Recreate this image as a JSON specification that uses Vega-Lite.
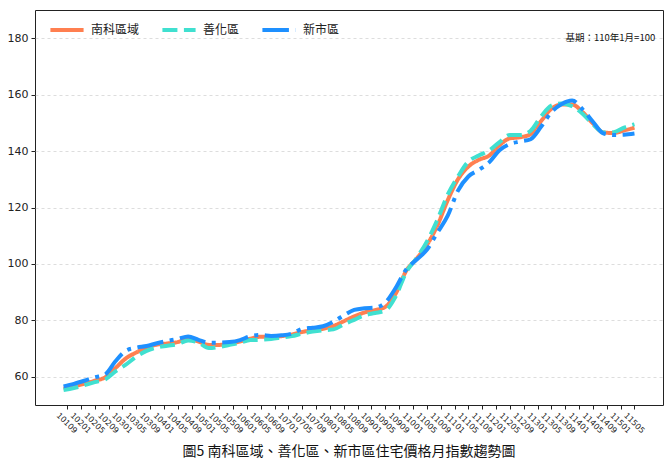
{
  "$schema": "https://vega.github.io/schema/vega-lite/v6.json",
  "width": 628,
  "height": 395,
  "autosize": "none",
  "padding": {"left": 35, "top": 10, "right": 8, "bottom": 65},
  "title": {
    "text": "圖5  南科區域、善化區、新市區住宅價格月指數趨勢圖",
    "orient": "bottom",
    "font": "Noto Sans CJK TC",
    "fontSize": 14,
    "fontWeight": "normal",
    "color": "#111",
    "offset": 10
  },
  "config": {
    "view": {"stroke": "#222", "strokeWidth": 1}
  },
  "layer": [
    {
      "data": {
        "values": [
          {"m": 7, "南科區域": 55.8, "善化區": 55.3, "新市區": 56.6},
          {"m": 10, "南科區域": 56.6, "善化區": 56.0, "新市區": 57.5},
          {"m": 13, "南科區域": 57.5, "善化區": 57.0, "新市區": 58.6},
          {"m": 16, "南科區域": 58.6, "善化區": 58.1, "新市區": 59.8},
          {"m": 19, "南科區域": 59.8, "善化區": 59.0, "新市區": 60.8},
          {"m": 22, "南科區域": 63.1, "善化區": 61.9, "新市區": 65.5},
          {"m": 25, "南科區域": 66.5, "善化區": 64.3, "新市區": 69.2},
          {"m": 28, "南科區域": 68.6, "善化區": 67.1, "新市區": 70.3},
          {"m": 31, "南科區域": 70.3, "善化區": 69.2, "新市區": 70.9},
          {"m": 34, "南科區域": 71.4, "善化區": 70.4, "新市區": 71.9},
          {"m": 37, "南科區域": 71.8, "善化區": 71.0, "新市區": 72.7},
          {"m": 40, "南科區域": 72.3, "善化區": 71.6, "新市區": 73.4},
          {"m": 43, "南科區域": 73.5, "善化區": 72.9, "新市區": 74.3},
          {"m": 46, "南科區域": 72.5, "善化區": 72.1, "新市區": 73.1},
          {"m": 49, "南科區域": 71.3, "善化區": 70.2, "新市區": 72.1},
          {"m": 52, "南科區域": 71.3, "善化區": 70.6, "新市區": 72.1},
          {"m": 55, "南科區域": 71.8, "善化區": 71.3, "新市區": 72.3},
          {"m": 58, "南科區域": 72.5, "善化區": 72.1, "新市區": 73.0},
          {"m": 61, "南科區域": 73.5, "善化區": 73.0, "新市區": 74.4},
          {"m": 64, "南科區域": 74.2, "善化區": 73.1, "新市區": 74.8},
          {"m": 67, "南科區域": 74.2, "善化區": 73.4, "新市區": 74.5},
          {"m": 70, "南科區域": 74.4, "善化區": 73.9, "新市區": 74.7},
          {"m": 73, "南科區域": 75.0, "善化區": 74.4, "新市區": 75.3},
          {"m": 76, "南科區域": 75.9, "善化區": 75.3, "新市區": 77.0},
          {"m": 79, "南科區域": 76.5, "善化區": 76.0, "新市區": 77.4},
          {"m": 82, "南科區域": 77.0, "善化區": 76.5, "新市區": 77.9},
          {"m": 85, "南科區域": 78.0, "善化區": 76.8, "新市區": 79.5},
          {"m": 88, "南科區域": 79.7, "善化區": 78.6, "新市區": 81.8},
          {"m": 91, "南科區域": 81.4, "善化區": 80.2, "新市區": 83.7},
          {"m": 94, "南科區域": 82.8, "善化區": 81.8, "新市區": 84.3},
          {"m": 97, "南科區域": 83.6, "善化區": 82.6, "新市區": 84.5},
          {"m": 100, "南科區域": 84.8, "善化區": 83.5, "新市區": 86.3},
          {"m": 103, "南科區域": 89.5, "善化區": 88.5, "新市區": 91.5},
          {"m": 106, "南科區域": 97.5, "善化區": 97.0, "新市區": 98.0},
          {"m": 109, "南科區域": 101.8, "善化區": 102.0, "新市區": 101.5},
          {"m": 112, "南科區域": 106.7, "善化區": 107.9, "新市區": 105.0},
          {"m": 115, "南科區域": 113.5, "善化區": 115.5, "新市區": 111.0},
          {"m": 118, "南科區域": 122.5, "善化區": 124.5, "新市區": 117.0},
          {"m": 121, "南科區域": 130.0, "善化區": 131.0, "新市區": 126.0},
          {"m": 124, "南科區域": 134.5, "善化區": 136.3, "新市區": 131.0},
          {"m": 127, "南科區域": 136.9, "善化區": 138.4, "新市區": 133.3},
          {"m": 130, "南科區域": 138.4, "善化區": 140.2, "新市區": 136.0},
          {"m": 133, "南科區域": 142.1, "善化區": 143.2, "新市區": 140.3},
          {"m": 136, "南科區域": 144.5, "善化區": 145.7, "新市區": 142.5},
          {"m": 139, "南科區域": 144.9, "善化區": 145.7, "新市區": 143.4},
          {"m": 142, "南科區域": 146.0, "善化區": 147.2, "新市區": 144.2},
          {"m": 145, "南科區域": 150.6, "善化區": 152.3, "新市區": 148.6},
          {"m": 148, "南科區域": 155.0, "善化區": 156.1, "新市區": 153.8},
          {"m": 151, "南科區域": 156.5, "善化區": 156.9, "新市區": 156.7},
          {"m": 154, "南科區域": 156.5, "善化區": 155.9, "新市區": 157.9},
          {"m": 157, "南科區域": 153.8, "善化區": 153.2, "新市區": 154.8},
          {"m": 160, "南科區域": 149.8, "善化區": 149.5, "新市區": 150.4},
          {"m": 163, "南科區域": 146.6, "善化區": 146.6, "新市區": 146.3},
          {"m": 166, "南科區域": 146.4, "善化區": 146.7, "新市區": 145.7},
          {"m": 169, "南科區域": 147.3, "善化區": 148.3, "新市區": 145.8},
          {"m": 172, "南科區域": 148.3, "善化區": 149.5, "新市區": 146.2}
        ]
      },
      "transform": [
        {"fold": ["南科區域", "善化區", "新市區"], "as": ["area", "index"]}
      ],
      "mark": {"type": "line", "interpolate": "monotone", "strokeWidth": 4},
      "encoding": {
        "x": {
          "field": "m",
          "type": "quantitative",
          "scale": {"domain": [-1.25, 180.25], "nice": false, "zero": false},
          "axis": {
            "title": null,
            "grid": false,
            "domain": false,
            "tickCount": 60,
            "values": [8, 12, 16, 20, 24, 28, 32, 36, 40, 44, 48, 52, 56, 60, 64, 68, 72, 76, 80, 84, 88, 92, 96, 100, 104, 108, 112, 116, 120, 124, 128, 132, 136, 140, 144, 148, 152, 156, 160, 164, 168, 172],
            "labelExpr": "(101 + floor(datum.value / 12)) + ((datum.value % 12) + 1 < 10 ? '0' : '') + ((datum.value % 12) + 1)",
            "labelAngle": 45,
            "labelAlign": "center",
            "labelBaseline": "middle",
            "labelPadding": 14,
            "labelOffset": -1,
            "labelOverlap": false,
            "labelFlush": false,
            "labelFont": "DejaVu Sans",
            "labelFontSize": 8,
            "labelColor": "#222",
            "tickColor": "#222",
            "tickSize": 4
          }
        },
        "y": {
          "field": "index",
          "type": "quantitative",
          "scale": {"domain": [50, 190], "nice": false, "zero": false},
          "axis": {
            "title": null,
            "tickCount": 10,
            "values": [60, 80, 100, 120, 140, 160, 180],
            "grid": true,
            "gridDash": [3, 3],
            "gridColor": "#dddddd",
            "domain": false,
            "tickColor": "#222",
            "tickSize": 4,
            "labelFont": "DejaVu Sans",
            "labelFontSize": 11,
            "labelColor": "#222",
            "labelPadding": 3
          }
        },
        "color": {
          "field": "area",
          "type": "nominal",
          "scale": {"domain": ["南科區域", "善化區", "新市區"], "range": ["#FF7F50", "#40E0D0", "#1E90FF"]},
          "legend": {
            "title": null,
            "orient": "none",
            "legendX": 13,
            "legendY": 1,
            "direction": "horizontal",
            "padding": 0,
            "symbolType": "stroke",
            "symbolSize": 1100,
            "symbolStrokeWidth": 4,
            "labelFont": "Noto Sans CJK TC",
            "labelFontSize": 12,
            "labelColor": "#222",
            "labelOffset": 5,
            "columnPadding": 14
          }
        },
        "strokeDash": {
          "field": "area",
          "type": "nominal",
          "scale": {"domain": ["南科區域", "善化區", "新市區"], "range": [[1, 0], [15, 6.5], [26.5, 6.5, 4, 6.5]]},
          "legend": {
            "title": null,
            "orient": "none",
            "legendX": 13,
            "legendY": 1,
            "direction": "horizontal",
            "padding": 0,
            "symbolType": "stroke",
            "symbolSize": 1100,
            "symbolStrokeWidth": 4,
            "labelFont": "Noto Sans CJK TC",
            "labelFontSize": 12,
            "labelColor": "#222",
            "labelOffset": 5,
            "columnPadding": 14
          }
        }
      }
    },
    {
      "data": {"values": [{"note": "基期：110年1月=100"}]},
      "mark": {"type": "text", "align": "right", "baseline": "middle", "font": "Noto Sans CJK TC", "fontSize": 9.5, "color": "#111"},
      "encoding": {
        "x": {"datum": 178},
        "y": {"datum": 180},
        "text": {"field": "note"}
      }
    }
  ]
}
